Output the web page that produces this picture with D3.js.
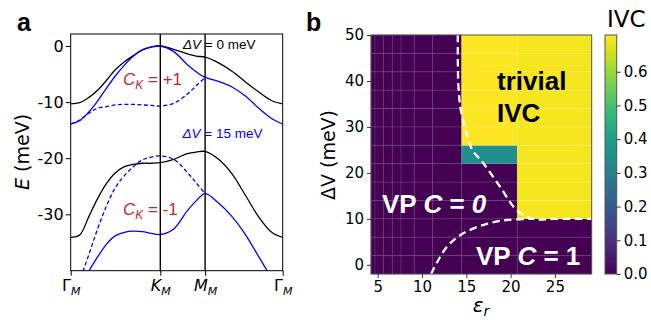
<!DOCTYPE html>
<html>
<head>
<meta charset="utf-8">
<script src="https://cdn.jsdelivr.net/npm/d3@7"></script>
<style>
  body { margin: 0; background: #fff; }
  svg { display: block; font-family: "DejaVu Sans", sans-serif; }
</style>
</head>
<body>
<svg width="651" height="320"></svg>
<script>
// ---------- panel a : bands along the path Γ - K - M - Γ ----------
// k measured in units of |ΓK| : K at 1, M at 1.5, Γ at 1 + 0.5 + sqrt(3)/2
const kPath = [0, 0.1, 0.2, 0.3, 0.4, 0.5, 0.6, 0.7, 0.8, 0.9, 1.0,
               1.15, 1.3, 1.4, 1.5, 1.65, 1.8, 1.95, 2.1, 2.25, 2.366];
const kTickPos = [0, 1, 1.5, 2.366];
const kTickMain = ['Γ', 'K', 'M', 'Γ'];
const yTicksA = [0, -10, -20, -30];

// ΔV = 0 meV (black)
const black0Upper = [-10.3, -10.1, -9.2, -7.9, -6.1, -4.2, -2.8, -1.7, -0.7, -0.2, 0,
                     -0.6, -1.4, -1.8, -2.0, -3.0, -4.5, -6.4, -8.2, -9.8, -10.3];
const black0Lower = [-34.1, -33.7, -30.5, -27.2, -24.5, -22.6, -21.5, -21.1, -20.9, -20.9, -20.8,
                     -20.2, -19.2, -18.9, -18.8, -20.2, -22.8, -26.6, -30.5, -33.3, -34.1];
// ΔV = 15 meV (blue)
const blue15Upper = [-13.9, -13.3, -11.8, -9.8, -7.5, -5.3, -3.4, -1.8, -0.7, -0.15, 0,
                     -1.0, -3.3, -4.6, -5.6, -6.3, -7.3, -8.9, -11.1, -13.0, -13.9];
const blue15UpperDash = [-13.9, -13.2, -12.0, -11.1, -10.8, -10.5, -10.4, -10.4, -10.5, -10.6, -10.7,
                         -10.2, -8.6, -7.1, -5.6];
const blue15Lower = [-48, -43, -40.2, -37.6, -35.3, -33.8, -33.2, -33.0, -33.1, -33.4, -33.6,
                     -32.6, -29.4, -27.6, -26.3, -28.0, -30.4, -33.6, -37.6, -41.5, -44];
const blue15LowerDash = [-48, -42, -37.3, -32.6, -28.5, -25.2, -23.1, -21.5, -20.3, -19.8, -19.6,
                         -20.2, -22.5, -24.4, -26.3];

// ---------- panel b : IVC order parameter map ----------
const epsEdges = [4.25, 4.7, 5.64, 6.65, 7.63, 9.13, 11.2, 14.48, 20.75, 29.15];
const dVEdges = [-2, 2, 6, 10, 14, 18, 22, 26, 30, 34, 38, 42, 46, 50];
// rows from ΔV = 0 (bottom) to ΔV = 48 (top), one value per ε column
const ivcRows = [
  [0, 0, 0, 0, 0, 0, 0, 0, 0],
  [0, 0, 0, 0, 0, 0, 0, 0, 0],
  [0, 0, 0, 0, 0, 0, 0, 0, 0],
  [0, 0, 0, 0, 0, 0, 0, 0, 0.698],
  [0, 0, 0, 0, 0, 0, 0, 0, 0.698],
  [0, 0, 0, 0, 0, 0, 0, 0, 0.698],
  [0, 0, 0, 0, 0, 0, 0, 0.35, 0.698],
  [0, 0, 0, 0, 0, 0, 0, 0.709, 0.698],
  [0, 0, 0, 0, 0, 0, 0, 0.709, 0.698],
  [0, 0, 0, 0, 0, 0, 0, 0.709, 0.698],
  [0, 0, 0, 0, 0, 0, 0, 0.709, 0.698],
  [0, 0, 0, 0, 0, 0, 0, 0.709, 0.698],
  [0, 0, 0, 0, 0, 0, 0, 0.709, 0.698]
];
const ivcMax = 0.709;
const cbTicks = [0, 0.1, 0.2, 0.3, 0.4, 0.5, 0.6];
const epsTicks = [5, 10, 15, 20, 25];
const dVTicks = [0, 10, 20, 30, 40, 50];
// dashed phase boundaries, [ε, ΔV]
const boundaryUpper = [[14.04, 50], [14.1, 39.5], [14.38, 33.7], [15.05, 28.6], [15.68, 25],
                       [16.93, 22.1], [18.8, 17], [20.7, 11.9], [22.57, 10], [25, 10], [29.15, 10]];
const boundaryLower = [[11.03, -2], [12.8, 3.9], [14.67, 6.85], [17.3, 8.9], [19.57, 9.75], [22.57, 10]];

const svg = d3.select('svg');
const arial = '"Liberation Sans", Arial, sans-serif';

// ================= PANEL A =================
const xa = d3.scaleLinear().domain([0, 2.366]).range([70.7, 282.7]);
const ya = d3.scaleLinear().domain([-40.05, 2.14]).range([270.7, 34]);

svg.append('clipPath').attr('id', 'clipA')
  .append('rect').attr('x', 70.7).attr('y', 34).attr('width', 212).attr('height', 236.7);

const gA = svg.append('g');
const plotA = gA.append('g').attr('clip-path', 'url(#clipA)');

const bandLine = d3.line()
  .x(d => xa(d[0]))
  .y(d => ya(d[1]))
  .curve(d3.curveCatmullRom.alpha(0.5));

const bands = [
  {vals: black0Upper, color: '#000', dash: null},
  {vals: black0Lower, color: '#000', dash: null},
  {vals: blue15Upper, color: '#0000ff', dash: null},
  {vals: blue15UpperDash, color: '#0000ff', dash: '4,2.5'},
  {vals: blue15Lower, color: '#0000ff', dash: null},
  {vals: blue15LowerDash, color: '#0000ff', dash: '4,2.5'}
];
bands.forEach(b => {
  plotA.append('path')
    .datum(b.vals.map((v, i) => [kPath[i], v]))
    .attr('d', bandLine)
    .attr('fill', 'none')
    .attr('stroke', b.color)
    .attr('stroke-width', 1.3)
    .attr('stroke-dasharray', b.dash);
});

// high-symmetry lines at K and M
plotA.selectAll('line.sym')
  .data([1, 1.5])
  .join('line')
  .attr('x1', d => xa(d)).attr('x2', d => xa(d))
  .attr('y1', 34).attr('y2', 270.7)
  .attr('stroke', '#000').attr('stroke-width', 1.4);

gA.append('rect')
  .attr('x', 70.7).attr('y', 34).attr('width', 212).attr('height', 236.7)
  .attr('fill', 'none').attr('stroke', '#000').attr('stroke-width', 1);

const yAxisA = gA.append('g')
  .attr('transform', 'translate(70.7,0)')
  .call(d3.axisLeft(ya).tickValues(yTicksA).tickSize(5).tickPadding(2)
    .tickFormat(d => d < 0 ? '-' + Math.abs(d) : String(d)));
yAxisA.select('.domain').remove();
yAxisA.selectAll('text').attr('font-size', 16).attr('fill', '#000')
  .attr('font-family', '"DejaVu Sans", sans-serif');

const xAxisA = gA.append('g')
  .attr('transform', 'translate(0,270.7)')
  .call(d3.axisBottom(xa).tickValues(kTickPos).tickSize(5).tickFormat(''));
xAxisA.select('.domain').remove();
xAxisA.selectAll('.tick').each(function(d, i) {
  const t = d3.select(this).append('text')
    .attr('y', 20).attr('fill', '#000').attr('text-anchor', 'middle')
    .attr('font-size', 16).attr('font-family', '"DejaVu Sans", sans-serif');
  t.append('tspan').text(kTickMain[i]).attr('font-style', i === 0 || i === 3 ? 'normal' : 'italic');
  t.append('tspan').text('M').attr('font-size', 11).attr('font-style', 'italic').attr('dy', 4);
});

// y label
const eLab = gA.append('text')
  .attr('transform', 'translate(29,152) rotate(-90)')
  .attr('text-anchor', 'middle').attr('font-size', 19).attr('fill', '#000');
eLab.append('tspan').text('E').attr('font-style', 'italic');
eLab.append('tspan').text(' (meV)');

// annotations
function dvLabel(x, y, txt, color) {
  const t = gA.append('text').attr('x', x).attr('y', y)
    .attr('font-family', arial).attr('font-size', 13.5).attr('fill', color);
  t.append('tspan').text('ΔV').attr('font-style', 'italic');
  t.append('tspan').text(txt);
}
dvLabel(183, 48.5, ' = 0 meV', '#000');
dvLabel(182.5, 137.5, ' = 15 meV', '#0000ff');

function chernLabel(x, y, txt) {
  const t = gA.append('text').attr('x', x).attr('y', y)
    .attr('font-family', arial).attr('font-size', 17).attr('fill', '#c1272d');
  t.append('tspan').text('C').attr('font-style', 'italic');
  t.append('tspan').text('K').attr('font-style', 'italic').attr('font-size', 12).attr('dy', 4);
  t.append('tspan').text(txt).attr('dy', -4);
}
chernLabel(123, 85, ' = +1');
chernLabel(123, 215, ' = -1');

svg.append('text').attr('x', 17).attr('y', 31).text('a')
  .attr('font-family', arial).attr('font-weight', 'bold').attr('font-size', 25);

// ================= PANEL B =================
const xb = d3.scaleLinear().domain([4.25, 29.15]).range([371, 591.7]);
const yb = d3.scaleLinear().domain([-2, 50]).range([274, 35]);
const color = d3.scaleSequential(d3.interpolateViridis).domain([0, ivcMax]);

const cells = [];
ivcRows.forEach((row, r) => {
  row.forEach((v, c) => {
    cells.push({e0: epsEdges[c], e1: epsEdges[c + 1], v0: dVEdges[r], v1: dVEdges[r + 1], val: v});
  });
});

svg.append('clipPath').attr('id', 'clipB')
  .append('rect').attr('x', 371).attr('y', 35).attr('width', 220.7).attr('height', 239);

const gB = svg.append('g');
gB.append('g').selectAll('rect')
  .data(cells)
  .join('rect')
  .attr('x', d => xb(d.e0))
  .attr('y', d => yb(d.v1))
  .attr('width', d => xb(d.e1) - xb(d.e0))
  .attr('height', d => yb(d.v0) - yb(d.v1))
  .attr('fill', d => color(d.val))
  .attr('stroke', d => color(d.val))
  .attr('stroke-width', 0.3);

// faint cell edges
const gridB = gB.append('g').attr('stroke', 'rgba(255,255,255,0.14)').attr('stroke-width', 1);
gridB.selectAll('line.v').data(epsEdges.slice(1, -1)).join('line')
  .attr('x1', d => xb(d)).attr('x2', d => xb(d)).attr('y1', 35).attr('y2', 274);
gridB.selectAll('line.h').data(dVEdges.slice(1, -1)).join('line')
  .attr('y1', d => yb(d)).attr('y2', d => yb(d)).attr('x1', 371).attr('x2', 591.7);

// phase boundaries
const bLine = d3.line().x(d => xb(d[0])).y(d => yb(d[1])).curve(d3.curveCatmullRom.alpha(0.5));
[boundaryUpper, boundaryLower].forEach(pts => {
  gB.append('path').datum(pts).attr('d', bLine)
    .attr('clip-path', 'url(#clipB)')
    .attr('fill', 'none').attr('stroke', '#fff')
    .attr('stroke-width', 2.3).attr('stroke-dasharray', '7.5,4.5');
});

gB.append('rect')
  .attr('x', 371).attr('y', 35).attr('width', 220.7).attr('height', 239)
  .attr('fill', 'none').attr('stroke', '#555').attr('stroke-width', 1);

const yAxisB = gB.append('g').attr('transform', 'translate(371,0)')
  .call(d3.axisLeft(yb).tickValues(dVTicks).tickSize(4).tickPadding(3));
const xAxisB = gB.append('g').attr('transform', 'translate(0,274)')
  .call(d3.axisBottom(xb).tickValues(epsTicks).tickSize(4).tickPadding(3));
[yAxisB, xAxisB].forEach(ax => {
  ax.select('.domain').remove();
  ax.selectAll('line').attr('stroke', '#333');
  ax.selectAll('text').attr('font-size', 15).attr('fill', '#000')
    .attr('font-family', '"DejaVu Sans", sans-serif');
});

gB.append('text')
  .attr('transform', 'translate(335,155) rotate(-90)')
  .attr('text-anchor', 'middle').attr('font-size', 19).attr('fill', '#000')
  .text('ΔV (meV)');

const epsLab = gB.append('text').attr('x', 481).attr('y', 312)
  .attr('text-anchor', 'middle').attr('font-size', 20).attr('fill', '#000');
epsLab.append('tspan').text('ε').attr('font-style', 'italic');
epsLab.append('tspan').text('r').attr('font-style', 'italic').attr('font-size', 14).attr('dy', 4);

// region labels
const boldTxt = (x, y, fill) => gB.append('text').attr('x', x).attr('y', y)
  .attr('font-family', arial).attr('font-weight', 'bold').attr('font-size', 26).attr('fill', fill);
boldTxt(497, 90, '#000').text('trivial');
boldTxt(497, 122, '#000').text('IVC');
const vp0 = boldTxt(382, 213, '#fff');
vp0.append('tspan').text('VP ');
vp0.append('tspan').text('C').attr('font-style', 'italic');
vp0.append('tspan').text(' = ');
vp0.append('tspan').text('0').attr('font-style', 'italic');
const vp1 = boldTxt(476, 265, '#fff');
vp1.append('tspan').text('VP ');
vp1.append('tspan').text('C').attr('font-style', 'italic');
vp1.append('tspan').text(' = 1');

// colorbar
const cbScale = d3.scaleLinear().domain([0, ivcMax]).range([274, 35]);
const grad = svg.append('defs').append('linearGradient').attr('id', 'viridisGrad')
  .attr('x1', 0).attr('y1', 1).attr('x2', 0).attr('y2', 0);
d3.range(0, 1.0001, 0.05).forEach(t => {
  grad.append('stop').attr('offset', t).attr('stop-color', d3.interpolateViridis(t));
});
svg.append('rect').attr('x', 605).attr('y', 35).attr('width', 11.7).attr('height', 239)
  .attr('fill', 'url(#viridisGrad)').attr('stroke', '#555').attr('stroke-width', 1);
const cbAxis = svg.append('g').attr('transform', 'translate(616.7,0)')
  .call(d3.axisRight(cbScale).tickValues(cbTicks).tickSize(4).tickPadding(3).tickFormat(d3.format('.1f')));
cbAxis.select('.domain').remove();
cbAxis.selectAll('line').attr('stroke', '#333');
cbAxis.selectAll('text').attr('font-size', 15).attr('fill', '#000')
  .attr('font-family', '"DejaVu Sans", sans-serif');
svg.append('text').attr('x', 607).attr('y', 27).attr('font-size', 23).text('IVC');

svg.append('text').attr('x', 306).attr('y', 31).text('b')
  .attr('font-family', arial).attr('font-weight', 'bold').attr('font-size', 25);
</script>
</body>
</html>
